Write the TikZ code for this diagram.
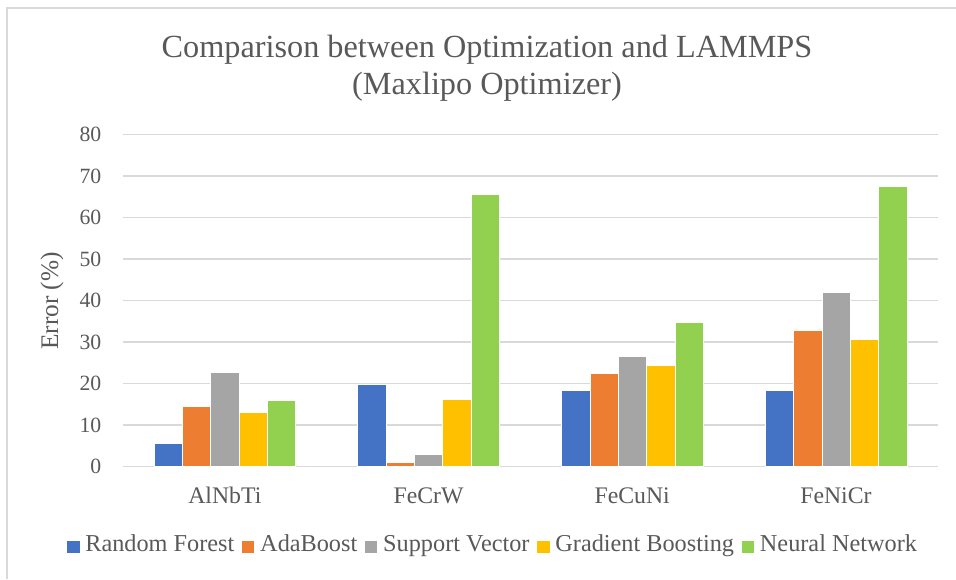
\documentclass[tikz,border=0pt]{standalone}
\usepackage{fontspec}
\setmainfont{Liberation Serif}

\definecolor{txt}{HTML}{595959}
\definecolor{gridc}{HTML}{D9D9D9}
\definecolor{rf}{HTML}{4472C4}
\definecolor{ab}{HTML}{ED7D31}
\definecolor{sv}{HTML}{A5A5A5}
\definecolor{gb}{HTML}{FFC000}
\definecolor{nn}{HTML}{92D050}

% one bar: group, position in group, value, colour
\newcommand{\chartbar}[4]{%
  \fill[#4, draw=white, line width=0.4pt]
    ({123+203.7*(#1+0.5)-70.8+28.33*#2},466.7) rectangle ++(28.33,{-4.15*#3});}

\begin{document}
\begin{tikzpicture}[x=0.75pt, y=-0.75pt,
  gridline/.style={gridc, line width=1.1pt},
  framestyle/.style={gridc, line width=1.5pt},
  ticklab/.style={text=txt, font=\fontsize{16.3pt}{18pt}\selectfont, inner sep=0pt, anchor=east},
  catlab/.style={text=txt, font=\fontsize{17.8pt}{20pt}\selectfont, inner sep=0pt, anchor=base},
  axtitle/.style={text=txt, font=\fontsize{19pt}{22pt}\selectfont, inner sep=0pt, rotate=90},
  titlelab/.style={text=txt, font=\fontsize{24.2pt}{28pt}\selectfont, inner sep=0pt, anchor=base},
  legsq/.style={minimum size=9.2pt, inner sep=0pt, draw=none},
  legtxt/.style={text=txt, font=\fontsize{18.2pt}{20pt}\selectfont, inner sep=0pt,
    text height=0.662em, text depth=0pt, anchor=west}]

\useasboundingbox (0,0) rectangle (956,579);
\fill[white] (0,0) rectangle (956,579);

% chart frame (top and left edges)
\draw[framestyle] (7,579) -- (7,7.5) -- (956,7.5);

% title
\node[titlelab] (title1) at (487,57.3) {Comparison between Optimization and LAMMPS};
\node[titlelab] (title2) at (487,94) {(Maxlipo Optimizer)};

% horizontal grid and value axis labels
\foreach \v in {0,10,...,80} {
  \draw[gridline] (123,{466.7-4.15*\v}) -- (937.7,{466.7-4.15*\v});
  \node[ticklab] (tick\v) at (101.5,{466.7-4.15*\v}) {\v};
}

% value axis title
\node[axtitle] (ytitle) at (52,301) {Error (\%)};

% bars: Random Forest, AdaBoost, Support Vector, Gradient Boosting, Neural Network
\chartbar{0}{0}{5.7}{rf}  \chartbar{0}{1}{14.6}{ab} \chartbar{0}{2}{22.7}{sv} \chartbar{0}{3}{13.2}{gb} \chartbar{0}{4}{15.9}{nn}
\chartbar{1}{0}{19.8}{rf} \chartbar{1}{1}{1.1}{ab}  \chartbar{1}{2}{3.1}{sv}  \chartbar{1}{3}{16.3}{gb} \chartbar{1}{4}{65.6}{nn}
\chartbar{2}{0}{18.3}{rf} \chartbar{2}{1}{22.6}{ab} \chartbar{2}{2}{26.7}{sv} \chartbar{2}{3}{24.5}{gb} \chartbar{2}{4}{34.8}{nn}
\chartbar{3}{0}{18.4}{rf} \chartbar{3}{1}{32.8}{ab} \chartbar{3}{2}{42.0}{sv} \chartbar{3}{3}{30.7}{gb} \chartbar{3}{4}{67.5}{nn}

% category labels
\foreach \name [count=\i from 0] in {AlNbTi,FeCrW,FeCuNi,FeNiCr}
  \node[catlab] (cat\i) at ({123+203.7*(\i+0.5)},503.5) {\name};

% legend
\node[legsq, fill=rf, anchor=west] (key1) at (67,547) {};
\node[legtxt] (leg1) at ([xshift=3.95pt]key1.east) {Random Forest};
\path (leg1.east |- key1.west) ++(5.5pt,0) node[legsq, fill=ab, anchor=west] (key2) {};
\node[legtxt] (leg2) at ([xshift=3.95pt]key2.east) {AdaBoost};
\path (leg2.east |- key1.west) ++(5.5pt,0) node[legsq, fill=sv, anchor=west] (key3) {};
\node[legtxt] (leg3) at ([xshift=3.95pt]key3.east) {Support Vector};
\path (leg3.east |- key1.west) ++(5.5pt,0) node[legsq, fill=gb, anchor=west] (key4) {};
\node[legtxt] (leg4) at ([xshift=3.95pt]key4.east) {Gradient Boosting};
\path (leg4.east |- key1.west) ++(5.5pt,0) node[legsq, fill=nn, anchor=west] (key5) {};
\node[legtxt] (leg5) at ([xshift=3.95pt]key5.east) {Neural Network};

\end{tikzpicture}
\end{document}
